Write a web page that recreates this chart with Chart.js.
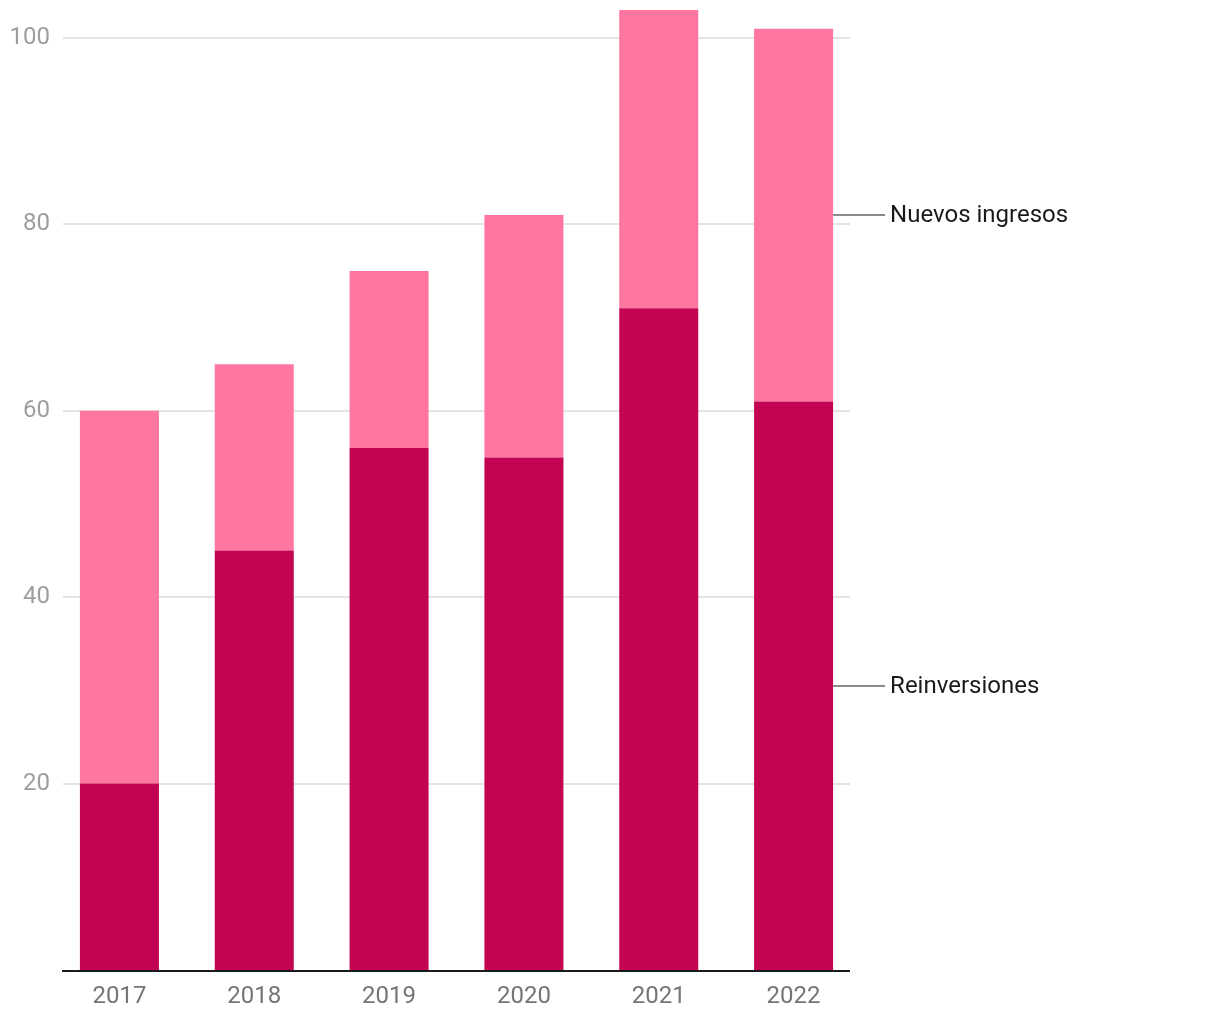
<!DOCTYPE html>
<html>
<head>
<meta charset="utf-8">
<script src="https://cdn.jsdelivr.net/npm/chart.js@4.4.1/dist/chart.umd.min.js"></script>
<style>
  html, body { margin: 0; padding: 0; background: #fff; }
  #wrap { width: 1220px; height: 1020px; position: relative; }
</style>
</head>
<body>
<div id="wrap"><canvas id="chart"></canvas></div>
<script>
// data
const years = ['2017', '2018', '2019', '2020', '2021', '2022'];
const reinversiones = [20, 45, 56, 55, 71, 61];
const nuevosIngresos = [40, 20, 19, 26, 32, 40];
const seriesNames = ['Reinversiones', 'Nuevos ingresos'];
const yTicks = [20, 40, 60, 80, 100];

const DARK = '#c20452';
const PINK = '#ff77a0';

// grid lines + baseline, a bit inset from the chart area like the original
const gridPlugin = {
  id: 'grid',
  beforeDatasetsDraw(chart) {
    const {ctx, chartArea, scales} = chart;
    const left = chartArea.left + 11, right = chartArea.right - 11;
    ctx.save();
    ctx.strokeStyle = '#e4e4e4';
    ctx.lineWidth = 2;
    yTicks.forEach(v => {
      const y = Math.round(scales.y.getPixelForValue(v));
      ctx.beginPath();
      ctx.moveTo(left, y);
      ctx.lineTo(right, y);
      ctx.stroke();
    });
    ctx.restore();
  },
  afterDatasetsDraw(chart) {
    const {ctx, chartArea, scales} = chart;
    const y0 = scales.y.getPixelForValue(0);
    ctx.save();
    ctx.strokeStyle = '#1a1a1a';
    ctx.lineWidth = 2;
    ctx.beginPath();
    ctx.moveTo(chartArea.left + 10, y0 + 1);
    ctx.lineTo(chartArea.right - 11, y0 + 1);
    ctx.stroke();

    // direct labels next to the last bar
    ctx.font = '24px Roboto';
    ctx.textBaseline = 'middle';
    chart.data.datasets.forEach((ds, i) => {
      const meta = chart.getDatasetMeta(i);
      const bar = meta.data[meta.data.length - 1];
      const mid = (bar.y + bar.base) / 2;
      const x = bar.x + bar.width / 2;
      ctx.strokeStyle = '#8a8a8a';
      ctx.lineWidth = 2;
      ctx.beginPath();
      ctx.moveTo(x, Math.round(mid));
      ctx.lineTo(x + 52, Math.round(mid));
      ctx.stroke();
      ctx.fillStyle = '#1a1a1a';
      ctx.fillText(ds.label, x + 57, mid + 1);
    });
    ctx.restore();
  }
};

const config = {
  type: 'bar',
  data: {
    labels: years,
    datasets: [
      { label: seriesNames[0], data: reinversiones, backgroundColor: DARK },
      { label: seriesNames[1], data: nuevosIngresos, backgroundColor: PINK }
    ]
  },
  options: {
    responsive: true,
    maintainAspectRatio: false,
    animation: false,
    layout: { padding: { top: 10, right: 359, bottom: 0, left: 0 } },
    datasets: { bar: { categoryPercentage: 1, barPercentage: 0.586 } },
    plugins: {
      legend: { display: false },
      tooltip: { enabled: false }
    },
    scales: {
      x: {
        stacked: true,
        grid: { display: false, drawTicks: false },
        border: { display: false },
        ticks: { color: '#757575', font: { family: 'Roboto', size: 24 }, padding: 13 },
        afterFit(s) { s.height = 50; s.paddingLeft = 0; s.paddingRight = 0; }
      },
      y: {
        stacked: true,
        min: 0,
        max: 103,
        grid: { display: false, drawTicks: false },
        border: { display: false },
        afterBuildTicks(s) { s.ticks = yTicks.map(v => ({ value: v })); },
        ticks: { color: '#9e9e9e', font: { family: 'Roboto', size: 24 }, padding: 2 },
        afterFit(s) { s.width = 52; s.paddingTop = 0; s.paddingBottom = 0; }
      }
    }
  },
  plugins: [gridPlugin]
};

document.addEventListener('DOMContentLoaded', function () {
  const ctx = document.getElementById('chart').getContext('2d');
  new Chart(ctx, config);
});
</script>
</body>
</html>
